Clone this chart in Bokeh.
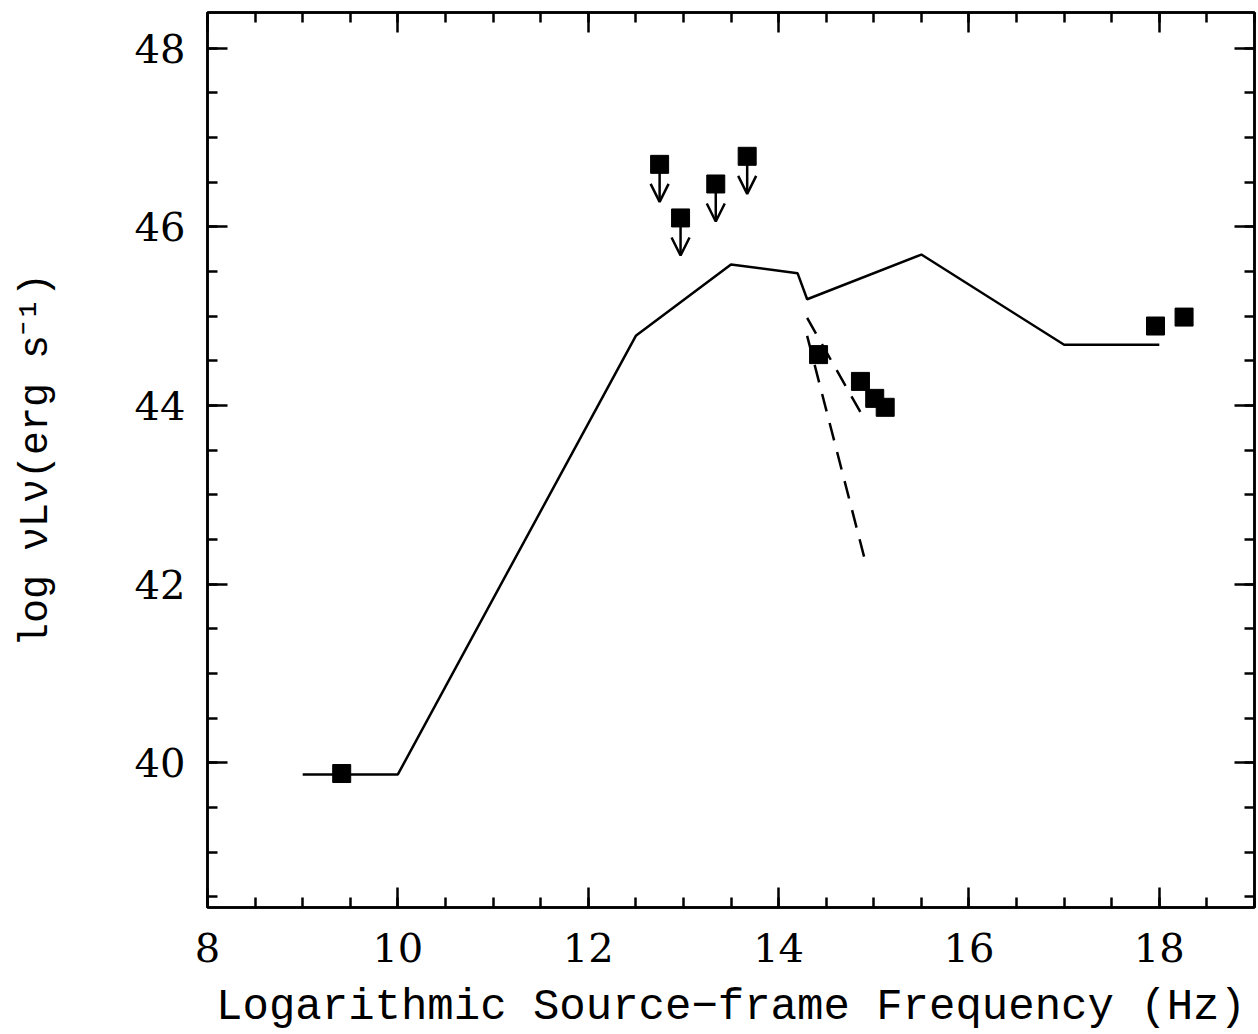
from bokeh.plotting import figure
from bokeh.models import (Range1d, LinearAxis, SingleIntervalTicker, Arrow, OpenHead,
                          ColumnDataSource, CustomLabelingPolicy)
from bokeh.embed import file_html
from bokeh.resources import INLINE

# model SED (solid line)
model_x = [9.0, 10.0, 12.5, 13.5, 14.2, 14.3, 15.5, 17.0, 18.0]
model_y = [39.87, 39.87, 44.78, 45.58, 45.48, 45.19, 45.69, 44.68, 44.68]

# dashed power-law extrapolations
dash1_x = [14.3, 14.9]
dash1_y = [44.98, 43.85]
dash2_x = [14.3, 14.9]
dash2_y = [44.78, 42.30]

# detections
det_x = [9.41, 14.42, 14.86, 15.01, 15.12, 17.96, 18.26]
det_y = [39.88, 44.57, 44.27, 44.08, 43.98, 44.89, 44.99]

# upper limits
ul_x = [12.75, 12.97, 13.34, 13.67]
ul_y = [46.70, 46.10, 46.48, 46.79]
ul_len = 0.42

x_title = "Logarithmic Source\u2212frame Frequency (Hz)"
y_title = "log \u03bdL\u03bd(erg s\u207b\u00b9)"

TICK_FONT = "DejaVu Serif"
LABEL_FONT = "Liberation Mono"

p = figure(width=1258, height=1034, output_backend="svg", toolbar_location=None,
           x_range=Range1d(8, 19), y_range=Range1d(38.38, 48.4),
           x_axis_location=None, y_axis_location=None,
           min_border_left=207, min_border_right=3, min_border_top=12, min_border_bottom=127)
p.grid.visible = False
p.outline_line_color = "black"
p.outline_line_width = 2.5
p.background_fill_color = "white"
p.border_fill_color = "white"

def make_axis(interval, labels, label_text=None, size="40px", label_size="44px",
              standoff=20, label_standoff=14):
    ax = LinearAxis(ticker=SingleIntervalTicker(interval=interval, num_minor_ticks=4))
    ax.major_tick_in = 20
    ax.major_tick_out = 0
    ax.minor_tick_in = 10
    ax.minor_tick_out = 0
    ax.major_tick_line_width = 2.5
    ax.minor_tick_line_width = 2.5
    ax.axis_line_width = 2.5
    ax.major_tick_line_color = "black"
    ax.minor_tick_line_color = "black"
    ax.axis_line_color = "black"
    if labels:
        ax.major_label_text_font = TICK_FONT
        ax.major_label_text_font_size = size
        ax.major_label_text_color = "black"
        ax.major_label_standoff = standoff
        if label_text:
            ax.axis_label = label_text
            ax.axis_label_text_font = LABEL_FONT
            ax.axis_label_text_font_size = label_size
            ax.axis_label_text_font_style = "normal"
            ax.axis_label_text_color = "black"
            ax.axis_label_standoff = label_standoff
    else:
        ax.major_label_policy = CustomLabelingPolicy(
            code="for (let i = 0; i < indices.size; i++) { indices.unset(i) } return indices")
        ax.major_label_text_font_size = "1px"
        ax.major_label_standoff = 0
    return ax

xb = make_axis(2, True, x_title, label_size="44px", standoff=25, label_standoff=17)
yl = make_axis(2, True, y_title, label_size="40px", standoff=22, label_standoff=73)
xt = make_axis(2, False)
yr = make_axis(2, False)
p.add_layout(xb, "below")
p.add_layout(yl, "left")
p.add_layout(xt, "above")
p.add_layout(yr, "right")

p.line(model_x, model_y, line_color="black", line_width=2.5)
p.line(dash1_x, dash1_y, line_color="black", line_width=2.5, line_dash="18 12")
p.line(dash2_x, dash2_y, line_color="black", line_width=2.5, line_dash="18 12")

src = ColumnDataSource(dict(x=ul_x, y=ul_y, y_end=[v - ul_len for v in ul_y]))
p.add_layout(Arrow(source=src, x_start="x", y_start="y", x_end="x", y_end="y_end",
                   line_color="black", line_width=2.5,
                   end=OpenHead(size=18, line_width=2.5, line_color="black")))

p.scatter(det_x, det_y, marker="square", size=18, fill_color="black", line_color="black")
p.scatter(ul_x, ul_y, marker="square", size=18, fill_color="black", line_color="black")

open("out.html", "w").write(file_html(p, INLINE))
